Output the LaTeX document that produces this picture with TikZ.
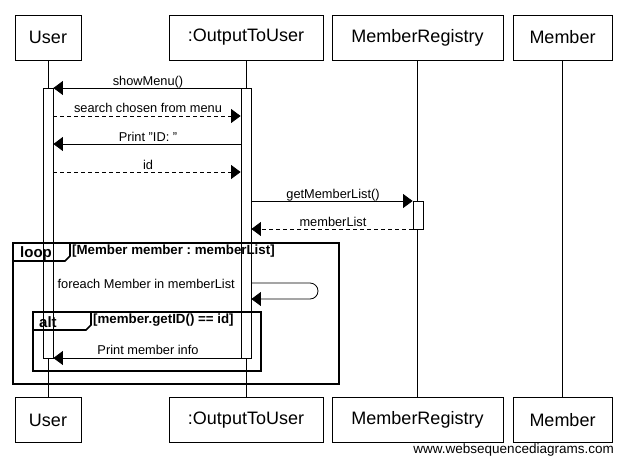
\documentclass[tikz,border=0pt]{standalone}
\usepackage{fontspec}
\setmainfont{Liberation Sans}
\usetikzlibrary{arrows.meta}
\frenchspacing
\begin{document}
\begin{tikzpicture}[x=1pt,y=-1pt,
  actor/.style={draw, line width=0.8pt, inner sep=0, font=\fontsize{18}{20}\selectfont, minimum height=45},
  life/.style={line width=0.8pt},
  bar/.style={draw, fill=white, line width=0.8pt, minimum width=10, inner sep=0},
  msg/.style={-{Triangle[length=9.5pt,width=14pt]}, line width=0.8pt},
  ret/.style={msg, dash pattern=on 4pt off 3pt},
  lbl/.style={font=\fontsize{12.8}{14}\selectfont, inner sep=0, anchor=base},
  frame/.style={line width=1.6pt},
  ftag/.style={font=\bfseries\fontsize{15}{16}\selectfont, inner sep=0, anchor=base west},
  cond/.style={font=\bfseries\fontsize{13.3}{15}\selectfont, inner sep=0, anchor=base west},
]
\useasboundingbox (0,0) rectangle (626,466);
% actors
\node[actor, minimum width=66] (u1) at (48,37.5) {User};
\node[actor, minimum width=154] (o1) at (246,37.5) {:OutputToUser};
\node[actor, minimum width=171] (r1) at (417.5,37.5) {MemberRegistry};
\node[actor, minimum width=99] (m1) at (562.5,37.5) {Member};
\node[actor, minimum width=66] (u2) at (48,420) {User};
\node[actor, minimum width=154] (o2) at (246,420) {:OutputToUser};
\node[actor, minimum width=171] (r2) at (417.5,420) {MemberRegistry};
\node[actor, minimum width=99] (m2) at (562.5,420) {Member};
% lifelines
\draw[life] (u1.south) -- (u2.north);
\draw[life] (o1.south) -- (o2.north);
\draw[life] (r1.south) -- (r2.north);
\draw[life] (m1.south) -- (m2.north);
% activation bars
\node[bar, minimum height=270, anchor=north] (ub) at (48,88) {};
\node[bar, minimum height=270, anchor=north] (ob) at (246,88) {};
\node[bar, minimum height=28, anchor=north] (rb) at (418,201) {};
% frames
\draw[frame] (13,243) rectangle (339,384);
\draw[frame] (13,261) -- (65,261) -- (70,256) -- (70,243);
\node[ftag] (loopt) at (20,257) {loop};
\node[cond] (loopc) at (72,254) {[Member member : memberList]};
\draw[frame] (33,312) rectangle (261,371);
\draw[frame] (33,330) -- (86,330) -- (91,325) -- (91,312);
\node[ftag] (altt) at (39,327) {alt};
\node[cond] (altc) at (93,323.5) {[member.getID() == id]};
% messages
\draw[msg] (ob.west |- 0,88) -- (ub.east |- 0,88);
\node[lbl] (l1) at (148,85) {showMenu()};
\draw[ret] (ub.east |- 0,116) -- (ob.west |- 0,116);
\node[lbl] (l2) at (148,112) {search chosen from menu};
\draw[msg] (ob.west |- 0,144) -- (ub.east |- 0,144);
\node[lbl] (l3) at (148,141) {Print "ID: "};
\draw[ret] (ub.east |- 0,172) -- (ob.west |- 0,172);
\node[lbl] (l4) at (148,169) {id};
\draw[msg] (ob.east |- 0,201) -- (rb.west |- 0,201);
\node[lbl] (l5) at (333,198) {getMemberList()};
\draw[ret] (rb.west |- 0,229) -- (ob.east |- 0,229);
\node[lbl] (l6) at (333,226) {memberList};
\draw[msg, rounded corners=8pt] (ob.east |- 0,283) -- (318,283) -- (318,299) -- (ob.east |- 0,299);
\node[lbl, anchor=base east] (l7) at (235,288) {foreach Member in memberList};
\draw[msg] (ob.west |- 0,358) -- (ub.east |- 0,358);
\node[lbl] (l8) at (148,354) {Print member info};
% watermark
\node[font=\fontsize{13.5}{15}\selectfont, inner sep=0, anchor=base east] (wm) at (614,453) {www.websequencediagrams.com};
\end{tikzpicture}
\end{document}
